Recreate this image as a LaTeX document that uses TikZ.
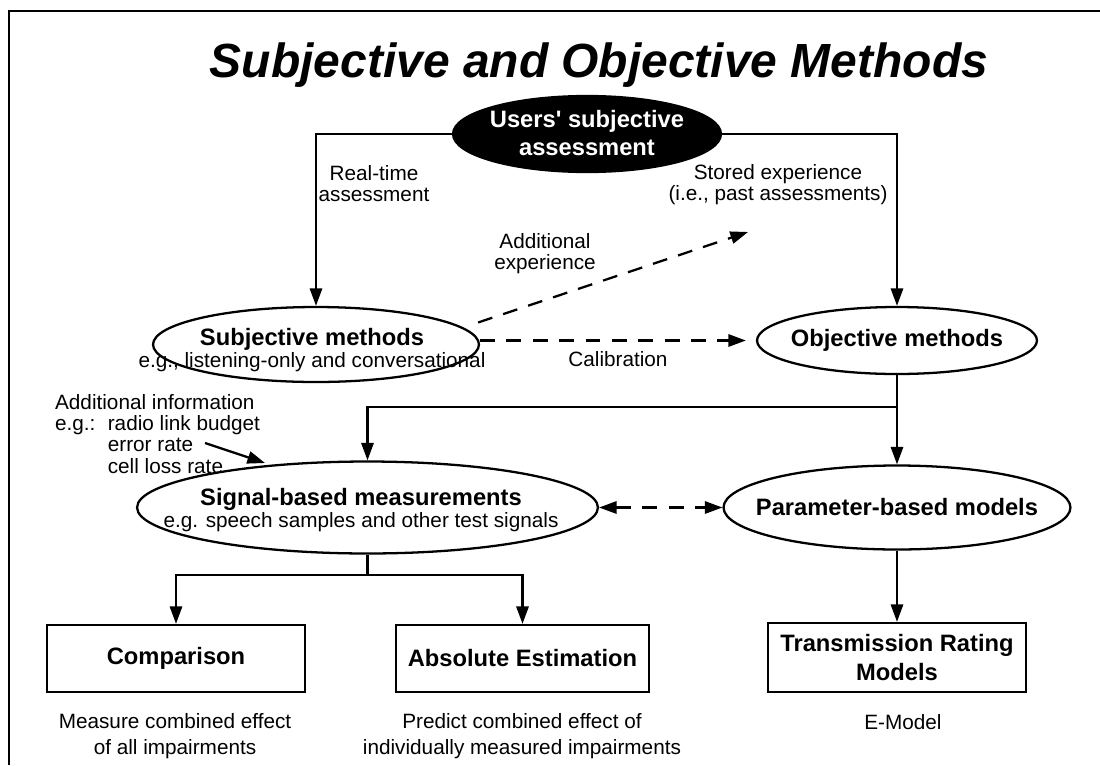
\documentclass[tikz,border=0pt]{standalone}
\usepackage{fontspec}
\setmainfont{Liberation Sans}
\usetikzlibrary{arrows.meta,calc,shapes.geometric,positioning}

\begin{document}
\begin{tikzpicture}[x=0.02cm, y=-0.02cm, line width=1.3pt,
    >={Triangle[length=10pt,width=7pt]},
    every node/.style={font=\fontsize{11.8}{12}\selectfont},
    bold/.style={font=\fontsize{13.5}{16}\selectfont\bfseries},
    oval/.style={ellipse, draw, inner sep=0pt},
    box/.style={draw, inner sep=0pt, align=center, bold},
    arr/.style={->},
    dasharr/.style={->, dash pattern=on 8.5pt off 6.5pt},
    dblarr/.style={<->, dash pattern=on 8.5pt off 6.5pt}]
    \useasboundingbox (0,0) rectangle (1100,765);
    % Frame
    \draw[line width=1.4pt] (1100,11) -- (9,11) -- (9,765);
    % Title
    \node[anchor=base, font=\fontsize{27.3}{30}\selectfont\bfseries\itshape] (title) at (599,77) {Subjective and Objective Methods};
    % Users' assessment
    \node[oval, fill=black, minimum width=5.36cm, minimum height=1.52cm] (users) at (587,134) {};
    \node[bold, align=center, text=white] (userstext) at (587,133) {Users\textquotesingle{} subjective\\assessment};
    % Methods
    \node[oval, minimum width=6.52cm, minimum height=1.5cm] (subj) at (316,344.5) {};
    \node[align=center, font=\fontsize{11.8}{12.8}\selectfont] (subjtext) at (312,350) {{\fontsize{13.5}{12.8}\selectfont\bfseries Subjective methods}\\e.g., listening-only and conversational};
    \node[oval, minimum width=5.6cm, minimum height=1.34cm] (obj) at (897,340.5) {};
    \node[bold] (objtext) at (obj) {Objective methods};
    % Measurements and models
    \node[oval, minimum width=9.22cm, minimum height=1.84cm] (sig) at (367.5,507.5) {};
    \node[align=center, font=\fontsize{11.8}{12.8}\selectfont] (sigtext) at (361,510) {{\fontsize{13.5}{12.8}\selectfont\bfseries Signal-based measurements}\\e.g. speech samples and other test signals};
    \node[oval, minimum width=6.94cm, minimum height=1.68cm] (param) at (897,507.5) {};
    \node[bold] (paramtext) at (param) {Parameter-based models};
    % Boxes
    \node[box, minimum width=5.16cm, minimum height=1.34cm] (comp) at (176,658.5) {Comparison};
    \node[box, minimum width=5.06cm, minimum height=1.34cm] (abs) at (522.5,658.5) {Absolute Estimation};
    \node[box, minimum width=5.16cm, minimum height=1.38cm, font=\fontsize{13.5}{17}\selectfont\bfseries] (trm) at (897,657.5) {Transmission Rating\\Models};
    % Labels
    \node[align=center] (realtime) at (374,184) {Real-time\\assessment};
    \node[align=center] (storedtext) at (778,185) {Stored experience\\(i.e., past assessments)};
    \node[align=center] (addexp) at (545,254) {Additional\\experience};
    \node[align=left, anchor=west, inner sep=0pt] (info) at (54,434) {Additional information\\ \makebox[30pt][l]{e.g.:}radio link budget\\ \hspace*{30pt}error rate\\ \hspace*{30pt}cell loss rate};
    \node[align=center, font=\fontsize{11.8}{14.8}\selectfont] (compnote) at (175,736) {Measure combined effect\\of all impairments};
    \node[align=center, font=\fontsize{11.8}{14.8}\selectfont] (absnote) at (522,736) {Predict combined effect of\\individually measured impairments};
    \node (trmnote) at (903,722) {E-Model};
    % Connectors
    \coordinate (subjout) at ($(subj.east)+(-2,-22)$);
    \coordinate (stored) at (748,232);
    \coordinate (objsplit) at (897,407);
    \coordinate (sigsplit) at (367.5,575);
    \coordinate (infostart) at (205,443);
    \coordinate (infoend) at (265,463);
    \draw[arr] (users) -| (subj);
    \draw[arr] (users) -| (obj);
    \draw[dasharr] (subjout) -- (stored);
    \draw[dasharr, shorten >=0.2cm] (subj.east |- obj) -- (obj) node[midway, below, yshift=-2pt] {Calibration};
    \draw[arr] (obj) -- (param);
    \draw[arr] (objsplit) -| (sig);
    \draw[dblarr] (sig) -- (param);
    \draw (sig) -- (sigsplit);
    \draw[arr] (sigsplit) -| (comp);
    \draw[arr] (sigsplit) -| (abs);
    \draw[arr] (param) -- (trm);
    \draw[arr] (infostart) -- (infoend);
\end{tikzpicture}
\end{document}
